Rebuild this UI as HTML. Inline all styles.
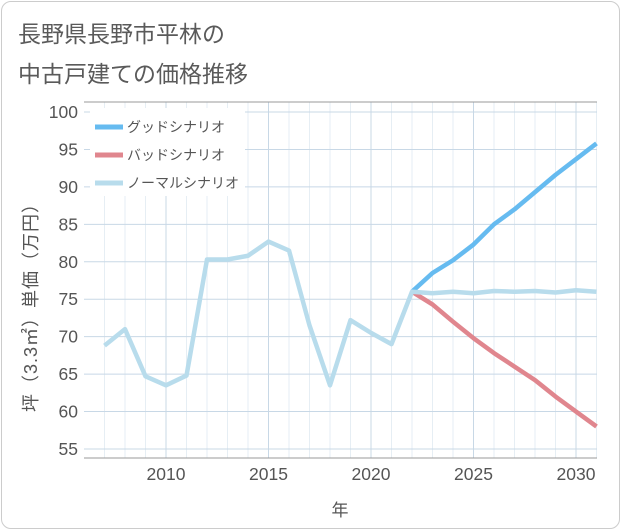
<!DOCTYPE html>
<html><head><meta charset="utf-8"><style>
body{margin:0;background:#fff;font-family:"Liberation Sans","Noto Sans CJK JP",sans-serif;}
#card{position:absolute;left:1px;top:1px;width:617px;height:526px;border:1px solid #ccc;border-radius:10px;background:#fff;}
.t{position:absolute;left:18px;font-size:23px;color:#5a5a5a;}
</style></head><body>
<div id="card"></div>
<div class="t" style="top:15px">長野県長野市平林の</div>
<div class="t" style="top:55px">中古戸建ての価格推移</div>
<svg id="chart" width="621" height="530" style="position:absolute;left:0;top:0"></svg>
<script>
const years=[2007,2008,2009,2010,2011,2012,2013,2014,2015,2016,2017,2018,2019,2020,2021,2022,2023,2024,2025,2026,2027,2028,2029,2030,2031];
const normal=[68.8,71,64.7,63.5,64.8,80.3,80.3,80.8,82.7,81.5,71.5,63.5,72.2,70.5,69,76,75.8,76,75.8,76.1,76,76.1,75.9,76.2,76];
const goodYears=[2022,2023,2024,2025,2026,2027,2028,2029,2030,2031];
const good=[76,78.5,80.2,82.3,85,87,89.3,91.6,93.7,95.8];
const bad=[76,74.3,72,69.8,67.8,66,64.2,62,60,58];
const yTicks=[55,60,65,70,75,80,85,90,95,100];
const xTicks=[2010,2015,2020,2025,2030];
const NS="http://www.w3.org/2000/svg",svg=document.getElementById('chart');
const L=84,R=597,T=102,B=458;
const x=v=>166+(v-2010)*20.5, y=v=>112+(100-v)*7.488;
function mk(t,a,p){const e=document.createElementNS(NS,t);for(const k in a)e.setAttribute(k,a[k]);(p||svg).appendChild(e);return e;}
for(let yr=2007;yr<=2031;yr++){const g=mk('line',{x1:x(yr),x2:x(yr),y1:T,y2:B,stroke:yr%5==0?'#c8d8e6':'#e6eef4','stroke-width':1});
}
yTicks.forEach(v=>{const g=mk('line',{x1:L,x2:R,y1:y(v),y2:y(v),stroke:'#c8d8e6'});

const t=mk('text',{x:78,y:y(v)+6,'text-anchor':'end','font-size':17.5,fill:'#555'});t.textContent=v;
});
xTicks.forEach(v=>{const t=mk('text',{x:x(v),y:480,'text-anchor':'middle','font-size':17.5,fill:'#555'});t.textContent=v;
});
const ax=mk('line',{x1:L,x2:R,y1:T,y2:T,stroke:'#999'});
const ax2=mk('line',{x1:L,x2:R,y1:B,y2:B,stroke:'#999'});
function line(xs,vs,c,n){const p=mk('polyline',{points:xs.map((a,i)=>x(a)+','+y(vs[i])).join(' '),fill:'none',stroke:c,'stroke-width':4.5,'stroke-linejoin':'round'});
}
line(goodYears,bad,'#e0868e','bad-scenario-line');
line(goodYears,good,'#66bbf0','good-scenario-line');
line(years,normal,'#b8dcec','normal-scenario-line');
const leg=[['グッドシナリオ','#66bbf0'],['バッドシナリオ','#e0868e'],['ノーマルシナリオ','#b8dcec']];
const lb=mk('rect',{x:90,y:108,width:155,height:88,fill:'#fff'});
leg.forEach((d,i)=>{const yy=127+i*28;
const s=mk('line',{x1:95,x2:123,y1:yy,y2:yy,stroke:d[1],'stroke-width':5});
const t=mk('text',{x:127,y:yy+5,'font-size':14,fill:'#555'});t.textContent=d[0];});
const xt=mk('text',{x:340,y:516,'text-anchor':'middle','font-size':17,fill:'#555'});xt.textContent='年';
const yt=mk('text',{x:0,y:0,'text-anchor':'middle','font-size':18,'letter-spacing':1,fill:'#555',transform:'translate(37,303) rotate(-90)'});yt.textContent='坪（3.3㎡）単価（万円）';
</script>
</body></html>
